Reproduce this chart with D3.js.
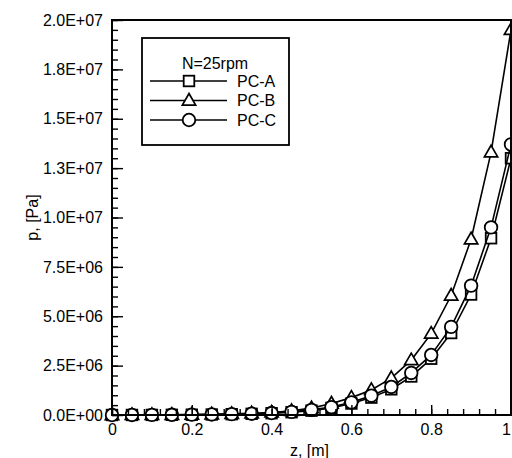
<!DOCTYPE html>
<html>
<head>
<meta charset="utf-8">
<script src="https://cdn.jsdelivr.net/npm/d3@7"></script>
<style>
  html, body { margin: 0; padding: 0; background: #fff; }
  svg { display: block; }
  text { font-family: "Liberation Sans", Arial, Helvetica, sans-serif; fill: #000; }
</style>
</head>
<body>
<svg id="chart" width="512" height="458"></svg>
<script>
// Axial position along the channel, m
const zValues = [0, 0.05, 0.1, 0.15, 0.2, 0.25, 0.3, 0.35, 0.4, 0.45, 0.5,
                 0.55, 0.6, 0.65, 0.7, 0.75, 0.8, 0.85, 0.9, 0.95, 1.0];

// Pressure for each case, Pa
const pcA = [0, 2e3, 5e3, 1e4, 1.5e4, 2.5e4, 4e4, 6e4, 9e4, 1.4e5, 2.2e5,
             3.6e5, 5.8e5, 8.8e5, 1.3e6, 1.95e6, 2.85e6, 4.15e6, 6.1e6, 8.95e6, 1.30e7];
const pcB = [0, 3e3, 7e3, 1.3e4, 2.2e4, 3.5e4, 5.5e4, 8.5e4, 1.3e5, 2.1e5, 3.5e5,
             5.8e5, 8.8e5, 1.27e6, 1.87e6, 2.78e6, 4.12e6, 6.05e6, 8.9e6, 1.33e7, 1.95e7];
const pcC = [0, 2e3, 5e3, 1e4, 1.7e4, 2.7e4, 4.2e4, 6.5e4, 1.0e5, 1.6e5, 2.6e5,
             4.0e5, 6.4e5, 9.8e5, 1.42e6, 2.13e6, 3.04e6, 4.46e6, 6.55e6, 9.5e6, 1.37e7];

const seriesNames = ["PC-A", "PC-B", "PC-C"];
const seriesSymbols = ["square", "triangle", "circle"];
const legendTitle = "N=25rpm";

const xTickValues = [0, 0.2, 0.4, 0.6, 0.8, 1];
const xMinorTicks = d3.range(0, 1.0001, 0.04);
const yTickValues = d3.range(0, 2.0e7 + 1, 2.5e6);
const yMinorTicks = d3.range(0, 2.0e7 + 1, 5e5);

const xLabel = "z, [m]";
const yLabel = "p, [Pa]";

// Plot frame
const plotLeft = 112, plotRight = 511, plotTop = 20, plotBottom = 415;

const svg = d3.select("#chart");
const x = d3.scaleLinear().domain([0, 1]).range([plotLeft, plotRight]);
const y = d3.scaleLinear().domain([0, 2.0e7]).range([plotBottom, plotTop]);

// Scientific labels such as 2.5E+06
function sciLabel(v) {
  if (v === 0) return "0.0E+00";
  const e = Math.floor(Math.log10(v));
  const m = v / Math.pow(10, e);
  return m.toFixed(1) + "E+" + String(e).padStart(2, "0");
}

const series = [pcA, pcB, pcC].map((vals, i) => ({
  name: seriesNames[i],
  symbol: seriesSymbols[i],
  points: zValues.map((z, j) => ({ z, p: vals[j] }))
}));

const line = d3.line().x(d => x(d.z)).y(d => y(d.p));

function drawMarker(g, type, cx, cy) {
  if (type === "circle") {
    g.append("circle").attr("cx", cx).attr("cy", cy).attr("r", 6.3)
      .attr("fill", "#fff").attr("stroke", "#000").attr("stroke-width", 1.8);
  } else if (type === "square") {
    g.append("rect").attr("x", cx - 5.3).attr("y", cy - 5.3)
      .attr("width", 10.6).attr("height", 10.6)
      .attr("fill", "#fff").attr("stroke", "#000").attr("stroke-width", 1.8);
  } else {
    const s = 7;
    g.append("path")
      .attr("d", `M${cx},${cy - s}L${cx + s * 0.95},${cy + s * 0.65}L${cx - s * 0.95},${cy + s * 0.65}Z`)
      .attr("fill", "#fff").attr("stroke", "#000").attr("stroke-width", 1.7)
      .attr("stroke-linejoin", "miter");
  }
}

// Data lines and markers
const dataG = svg.append("g");
series.forEach(s => {
  const g = dataG.append("g");
  g.append("path").datum(s.points).attr("d", line)
    .attr("fill", "none").attr("stroke", "#000").attr("stroke-width", 1.6);
  s.points.forEach(d => drawMarker(g, s.symbol, x(d.z), y(d.p)));
});

// Axes with inward ticks
const axisG = svg.append("g");
const xAxisMinor = d3.axisBottom(x).tickValues(xMinorTicks).tickSize(-6).tickFormat("");
const xAxisMajor = d3.axisBottom(x).tickValues(xTickValues).tickSize(-10)
  .tickPadding(6).tickFormat(d3.format("~g"));
const yAxisMinor = d3.axisLeft(y).tickValues(yMinorTicks).tickSize(-6).tickFormat("");
const yAxisMajor = d3.axisLeft(y).tickValues(yTickValues).tickSize(-11)
  .tickPadding(9).tickFormat(sciLabel);

function styleAxis(sel) {
  sel.select(".domain").remove();
  sel.selectAll(".tick line").attr("stroke", "#000").attr("stroke-width", 1.4);
  sel.selectAll(".tick text").style("font-size", "16px")
    .style("font-family", '"Liberation Sans", Arial, sans-serif').attr("fill", "#000");
}

axisG.append("g").attr("transform", `translate(0,${plotBottom})`).call(xAxisMinor).call(styleAxis);
const xMajorG = axisG.append("g").attr("transform", `translate(0,${plotBottom})`)
  .call(xAxisMajor).call(styleAxis);
xMajorG.selectAll(".tick text").attr("dy", "0.71em").attr("y", 9);
// The last label sits on the frame edge; keep it inside the page
xMajorG.selectAll(".tick text").filter(d => d === 1)
  .attr("text-anchor", "end").attr("x", -0.5);
axisG.append("g").attr("transform", `translate(${plotLeft},0)`).call(yAxisMinor).call(styleAxis);
axisG.append("g").attr("transform", `translate(${plotLeft},0)`).call(yAxisMajor).call(styleAxis);

// Frame
axisG.append("rect").attr("x", plotLeft).attr("y", plotTop)
  .attr("width", plotRight - plotLeft).attr("height", plotBottom - plotTop)
  .attr("fill", "none").attr("stroke", "#000").attr("stroke-width", 2);

// Axis titles
svg.append("text").attr("x", (plotLeft + plotRight) / 2 - 2).attr("y", 456)
  .attr("text-anchor", "middle").style("font-size", "16px").text(xLabel);
svg.append("text")
  .attr("transform", `translate(38,${(plotTop + plotBottom) / 2}) rotate(-90)`)
  .attr("text-anchor", "middle").style("font-size", "16px").text(yLabel);

// Legend
const lg = svg.append("g");
lg.append("rect").attr("x", 142).attr("y", 38).attr("width", 147).attr("height", 107)
  .attr("fill", "#fff").attr("stroke", "#000").attr("stroke-width", 1.8);
lg.append("text").attr("x", 215).attr("y", 69).attr("text-anchor", "middle")
  .style("font-size", "16px").text(legendTitle);
series.forEach((s, i) => {
  const ly = 81 + i * 19.5;
  lg.append("line").attr("x1", 150).attr("x2", 227).attr("y1", ly).attr("y2", ly)
    .attr("stroke", "#000").attr("stroke-width", 1.5);
  drawMarker(lg, s.symbol, 189, ly);
  lg.append("text").attr("x", 237).attr("y", ly).attr("dy", "0.36em")
    .style("font-size", "16px").text(s.name);
});
</script>
</body>
</html>
